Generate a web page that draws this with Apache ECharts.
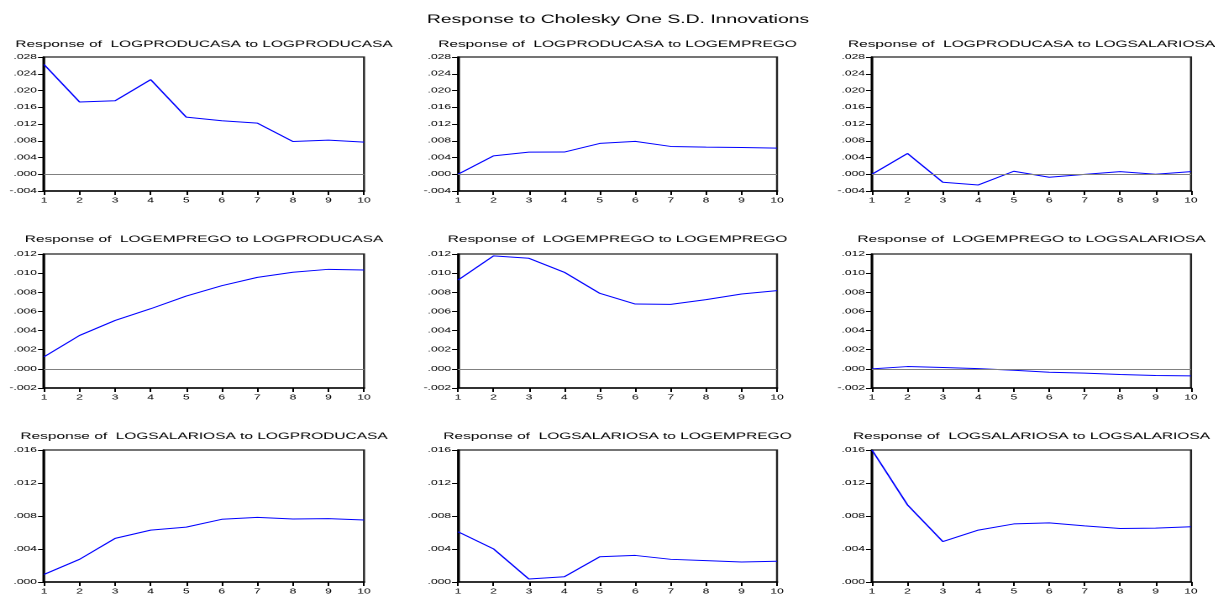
<!DOCTYPE html>
<html>
<head>
<meta charset="utf-8">
<script src="https://cdn.jsdelivr.net/npm/echarts@6.0.0/dist/echarts.min.js"></script>
<style>
  html, body { margin: 0; padding: 0; background: #fff; overflow: hidden; }
  #main { height: 595px; transform-origin: 0 0; }
</style>
</head>
<body>
<div id="main"></div>
<script>
  // the picture is stretched sideways, so draw narrow and widen it with css
  const stretch = 1.68

  const periods = ['1', '2', '3', '4', '5', '6', '7', '8', '9', '10']

  const prodToProd = [0.0262, 0.01725, 0.01756, 0.0226, 0.01365, 0.01277, 0.01222, 0.00782, 0.00814, 0.00766]
  const prodToEmp = [0.0, 0.0044, 0.00528, 0.0053, 0.00736, 0.00784, 0.00664, 0.00648, 0.0064, 0.00624]
  const prodToSal = [0.0, 0.00496, -0.00192, -0.00256, 0.00072, -0.00072, -0.00002, 0.00064, 0.0, 0.00064]
  const empToProd = [0.00126, 0.00349, 0.00506, 0.00628, 0.00761, 0.00869, 0.00956, 0.01009, 0.0104, 0.01033]
  const empToEmp = [0.00928, 0.0118, 0.01155, 0.01009, 0.00789, 0.00677, 0.00674, 0.00723, 0.00782, 0.00817]
  const empToSal = [0.0, 0.00024, 0.00014, 0.00003, -0.00014, -0.00035, -0.00045, -0.00059, -0.0007, -0.00073]
  const salToProd = [0.00092, 0.00275, 0.00529, 0.00629, 0.00665, 0.0076, 0.00784, 0.00764, 0.00768, 0.00752]
  const salToEmp = [0.00609, 0.00402, 0.00036, 0.00064, 0.00306, 0.00322, 0.00275, 0.00259, 0.00243, 0.00251]
  const salToSal = [0.016, 0.00935, 0.0049, 0.00629, 0.00704, 0.00716, 0.0068, 0.00649, 0.00653, 0.00669]

  const panelData = [prodToProd, prodToEmp, prodToSal, empToProd, empToEmp, empToSal, salToProd, salToEmp, salToSal]
  const panelTitles = [
    'Response of  LOGPRODUCASA to LOGPRODUCASA',
    'Response of  LOGPRODUCASA to LOGEMPREGO',
    'Response of  LOGPRODUCASA to LOGSALARIOSA',
    'Response of  LOGEMPREGO to LOGPRODUCASA',
    'Response of  LOGEMPREGO to LOGEMPREGO',
    'Response of  LOGEMPREGO to LOGSALARIOSA',
    'Response of  LOGSALARIOSA to LOGPRODUCASA',
    'Response of  LOGSALARIOSA to LOGEMPREGO',
    'Response of  LOGSALARIOSA to LOGSALARIOSA'
  ]
  const mainTitle = 'Response to Cholesky One S.D. Innovations'

  // y scale per row
  const rowMin = [-0.004, -0.002, 0]
  const rowMax = [0.028, 0.012, 0.016]
  const rowStep = [0.004, 0.002, 0.004]

  // layout in real pixels
  const colLeft = [44, 458, 872]
  const colRight = [364, 777, 1191]
  const rowTop = [57, 254, 450]
  const plotHeight = 134
  const titleTop = [40, 235, 432]

  const px = x => x / stretch
  const font = 'Liberation Sans, Arial, sans-serif'

  const el = document.getElementById('main')
  el.style.width = (1215 / stretch) + 'px'
  el.style.transform = 'scaleX(' + stretch + ')'

  function tickLabel (v) {
    const s = Math.abs(v).toFixed(3).replace(/^0/, '')
    return (v < -1e-9 ? '-' : '') + s
  }

  const grid = []
  const xAxis = []
  const yAxis = []
  const series = []
  const title = [{
    text: mainTitle,
    left: px(618),
    top: 14,
    textAlign: 'center',
    padding: 0,
    textStyle: { fontFamily: font, fontSize: 11.5, fontWeight: 'normal', color: '#000' }
  }]

  for (let i = 0; i < 9; i++) {
    const r = Math.floor(i / 3)
    const c = i % 3
    grid.push({
      left: px(colLeft[c]),
      width: px(colRight[c] - colLeft[c]),
      top: rowTop[r],
      height: plotHeight,
      show: true,
      borderColor: '#222',
      borderWidth: 1.2,
      backgroundColor: '#fff'
    })
    title.push({
      text: panelTitles[i],
      left: px((colLeft[c] + colRight[c]) / 2),
      top: titleTop[r],
      textAlign: 'center',
      padding: 0,
      textStyle: { fontFamily: font, fontSize: 9.2, fontWeight: 'normal', color: '#000' }
    })
    xAxis.push({
      type: 'category',
      gridIndex: i,
      data: periods,
      boundaryGap: false,
      axisLine: { onZero: false, lineStyle: { color: '#000', width: 1.5 } },
      axisTick: { length: 4, interval: 0, lineStyle: { color: '#000' } },
      axisLabel: { interval: 0, margin: 6, fontFamily: font, fontSize: 7.2, color: '#000' },
      splitLine: { show: false }
    })
    yAxis.push({
      type: 'value',
      gridIndex: i,
      min: rowMin[r],
      max: rowMax[r],
      interval: rowStep[r],
      axisLine: { show: true, lineStyle: { color: '#000', width: 1.5 } },
      axisTick: { show: true, length: px(6), lineStyle: { color: '#000' } },
      axisLabel: { margin: px(7), fontFamily: font, fontSize: 7.2, color: '#000', formatter: tickLabel },
      splitLine: { show: false }
    })
    const s = {
      type: 'line',
      xAxisIndex: i,
      yAxisIndex: i,
      data: panelData[i],
      symbol: 'none',
      lineStyle: { color: '#0000ff', width: 1 },
      silent: true
    }
    if (rowMin[r] < 0) {
      s.markLine = {
        silent: true,
        symbol: 'none',
        label: { show: false },
        lineStyle: { color: '#808080', width: 1, type: 'solid' },
        data: [{ yAxis: 0 }]
      }
    }
    series.push(s)
  }

  const chart = echarts.init(el, null, { devicePixelRatio: 2 })
  chart.setOption({
    backgroundColor: '#fff',
    animation: false,
    title,
    grid,
    xAxis,
    yAxis,
    series
  })
</script>
</body>
</html>
